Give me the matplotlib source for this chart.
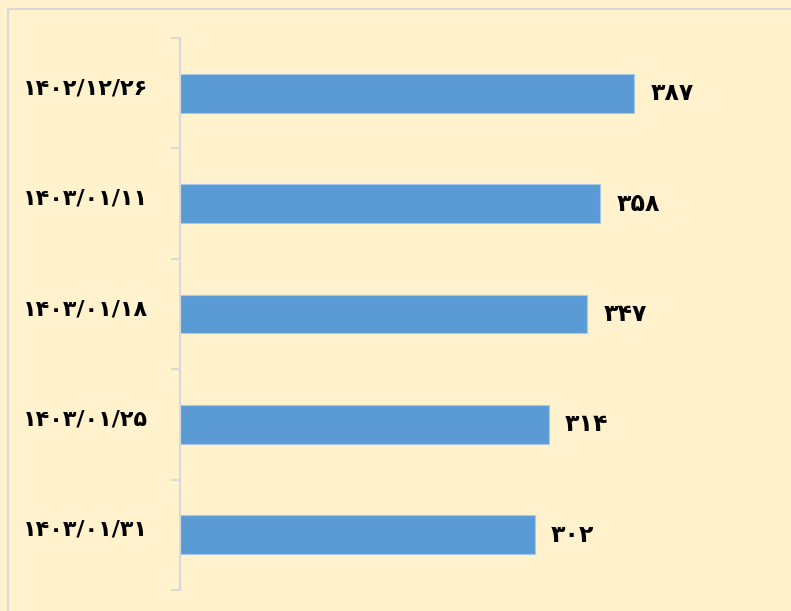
import matplotlib
matplotlib.use("Agg")
import matplotlib.pyplot as plt
from matplotlib.patches import Rectangle
from matplotlib.transforms import ScaledTranslation

categories = ["۱۴۰۲/۱۲/۲۶", "۱۴۰۳/۰۱/۱۱", "۱۴۰۳/۰۱/۱۸", "۱۴۰۳/۰۱/۲۵", "۱۴۰۳/۰۱/۳۱"]
values = [387, 358, 347, 314, 302]
value_labels = ["۳۸۷", "۳۵۸", "۳۴۷", "۳۱۴", "۳۰۲"]

W, H = 791, 611
bg = "#FFF2CC"
fig = plt.figure(figsize=(W / 100, H / 100), dpi=100, facecolor=bg)

# outer border of the chart area
fig.patches.append(Rectangle((8 / W, -0.1), 1.2, 1.1 - 9 / H, transform=fig.transFigure,
                             facecolor="none", edgecolor="#D9D9D9", linewidth=1.5, zorder=0))

left, right = 180 / W, 767 / W
bottom, top = 1 - 590 / H, 1 - 38 / H
ax = fig.add_axes([left, bottom, right - left, top - bottom])
ax.set_facecolor(bg)
ax.patch.set_alpha(0)

y = list(range(len(categories)))
ax.barh(y, values, height=0.35, color="#5B9BD5", edgecolor="#A9C8E8", linewidth=0.8)
ax.set_xlim(0, 500)
ax.set_ylim(len(categories) - 0.5, -0.5)

for yi, v, lab in zip(y, values, value_labels):
    ax.text(v + 14, yi, lab, va="center", ha="left", fontsize=17, fontweight="bold",
            family=["DejaVu Sans"])

ax.set_yticks(y)
ax.set_yticklabels(categories, fontsize=16, fontweight="bold", family=["DejaVu Sans"])
ax.tick_params(axis="y", which="major", length=0, pad=23)
shift = ScaledTranslation(0, 5 / 72, fig.dpi_scale_trans)
for t in ax.get_yticklabels():
    t.set_transform(t.get_transform() + shift)
ax.set_yticks([i - 0.5 for i in range(len(categories) + 1)], minor=True)
ax.tick_params(axis="y", which="minor", length=6.5, width=1.5, color="#D9D9D9")
ax.set_xticks([])
for s in ["top", "right", "bottom"]:
    ax.spines[s].set_visible(False)
ax.spines["left"].set_color("#D9D9D9")
ax.spines["left"].set_linewidth(1.5)

fig.savefig("out.png", dpi=100, facecolor=bg)
